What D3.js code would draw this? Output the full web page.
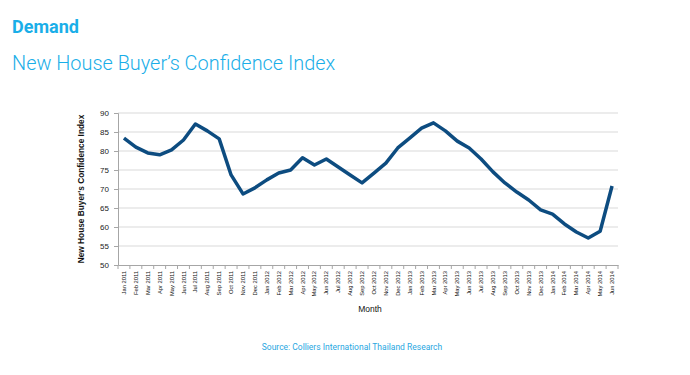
<!DOCTYPE html>
<html><head><meta charset="utf-8">
<script src="https://cdn.jsdelivr.net/npm/d3@7"></script>
<style>body{margin:0;background:#fff;}svg{display:block;}</style>
</head><body>
<script>
const months = ["Jan 2011","Feb 2011","Mar 2011","Apr 2011","May 2011","Jun 2011","Jul 2011","Aug 2011","Sep 2011","Oct 2011","Nov 2011","Dec 2011",
"Jan 2012","Feb 2012","Mar 2012","Apr 2012","May 2012","Jun 2012","Jul 2012","Aug 2012","Sep 2012","Oct 2012","Nov 2012","Dec 2012",
"Jan 2013","Feb 2013","Mar 2013","Apr 2013","May 2013","Jun 2013","Jul 2013","Aug 2013","Sep 2013","Oct 2013","Nov 2013","Dec 2013",
"Jan 2014","Feb 2014","Mar 2014","Apr 2014","May 2014","Jun 2014"];
const confidence = [83.4,81,79.5,79,80.3,82.9,87.1,85.3,83.2,73.7,68.7,70.3,
72.4,74.2,75,78.2,76.3,77.9,75.8,73.7,71.6,74.2,76.8,80.8,
83.4,86,87.4,85.3,82.6,80.8,77.9,74.5,71.6,69.2,67.1,64.5,
63.4,60.8,58.7,57.1,58.9,70.8];
const yTicks = [50,55,60,65,70,75,80,85,90];

const W=690,H=375;
const svg=d3.select("body").append("svg").attr("width",W).attr("height",H);
const blue="#1aaee8";
svg.append("text").attr("x",12).attr("y",33).attr("fill",blue)
  .style("font-family","Roboto").style("font-weight","bold").style("font-size","18px").text("Demand");
svg.append("text").attr("x",12).attr("y",70).attr("fill",blue)
  .style("font-family","Roboto").style("font-weight","300").style("font-size","19.9px").text("New House Buyer’s Confidence Index");

const x=d3.scaleBand().domain(months).range([118,618]);
const y=d3.scaleLinear().domain([50,90]).range([265,113]);

// gridlines
svg.append("g").selectAll("line").data(yTicks.filter(d=>d>50)).join("line")
  .attr("x1",118).attr("x2",618).attr("y1",d=>y(d)).attr("y2",d=>y(d))
  .attr("stroke","#d9d9d9").attr("stroke-width",1);

const yAxis=svg.append("g").attr("transform","translate(118,0)")
  .call(d3.axisLeft(y).tickValues(yTicks).tickSize(4).tickPadding(5));
yAxis.select(".domain").attr("stroke","#a6a6a6");
yAxis.selectAll(".tick line").attr("stroke","#a6a6a6");
yAxis.selectAll("text").style("font-family","Liberation Sans").style("font-size","8px").attr("fill","#222");

const xAxis=svg.append("g").attr("transform","translate(0,265)")
  .call(d3.axisBottom(x).tickSize(0).tickPadding(0));
xAxis.select(".domain").attr("stroke","#a6a6a6");
xAxis.selectAll(".tick text").attr("transform","rotate(-90)").attr("text-anchor","end")
  .attr("x",-6).attr("y",0).attr("dy","0.35em").attr("dx",0)
  .style("font-family","Liberation Sans").style("font-size","5.8px").attr("fill","#111");
// boundary ticks
svg.append("g").selectAll("line").data(d3.range(months.length+1)).join("line")
  .attr("x1",i=>118+i*x.step()).attr("x2",i=>118+i*x.step())
  .attr("y1",265).attr("y2",269).attr("stroke","#a6a6a6");

svg.append("text").attr("x",370).attr("y",312).attr("text-anchor","middle")
  .style("font-family","Liberation Sans").style("font-size","8.5px").attr("fill","#111").text("Month");
svg.append("text").attr("transform","translate(84,189) rotate(-90)").attr("text-anchor","middle")
  .style("font-family","Liberation Sans").style("font-weight","bold").style("font-size","8.3px").attr("fill","#111")
  .text("New House Buyer's Confidence Index");

const line=d3.line().x((d,i)=>x(months[i])+x.bandwidth()/2).y(d=>y(d));
svg.append("path").datum(confidence).attr("d",line).attr("fill","none")
  .attr("stroke","#0d4c80").attr("stroke-width",3.5).attr("stroke-linejoin","round");

svg.append("text").attr("x",352).attr("y",350).attr("text-anchor","middle").attr("fill","#2aa7df")
  .style("font-family","Roboto").style("font-size","8.5px").text("Source: Colliers International Thailand Research");
</script>
</body></html>
